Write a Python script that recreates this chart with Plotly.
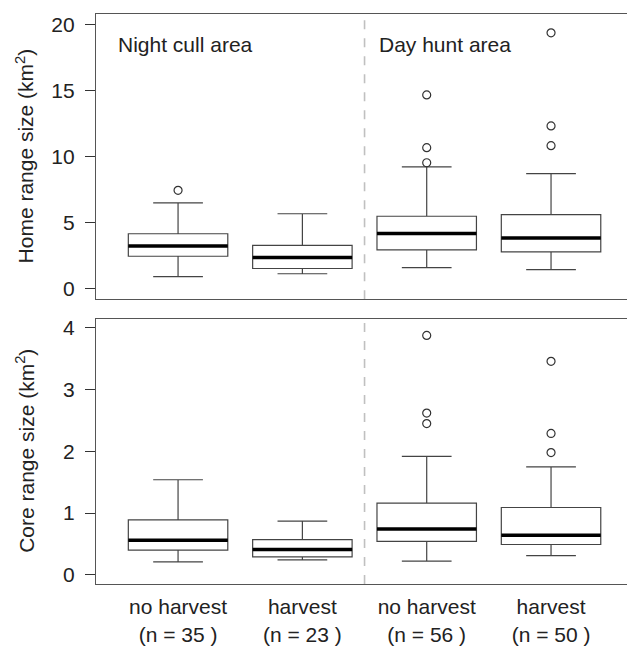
import plotly.graph_objects as go

# ---- data ----
positions = [1, 2, 3, 4]
groups = ["no harvest", "harvest", "no harvest", "harvest"]
n_obs = [35, 23, 56, 50]

home_q1 = [2.43, 1.50, 2.91, 2.76]
home_med = [3.20, 2.33, 4.16, 3.81]
home_q3 = [4.14, 3.26, 5.47, 5.59]
home_low = [0.88, 1.10, 1.56, 1.41]
home_up = [6.49, 5.66, 9.22, 8.70]
home_out_x = [1, 3, 3, 3, 4, 4, 4]
home_out_y = [7.44, 14.68, 10.68, 9.53, 19.40, 12.33, 10.83]

core_q1 = [0.40, 0.29, 0.54, 0.49]
core_med = [0.56, 0.41, 0.74, 0.64]
core_q3 = [0.89, 0.57, 1.16, 1.09]
core_low = [0.21, 0.24, 0.22, 0.31]
core_up = [1.54, 0.87, 1.92, 1.75]
core_out_x = [3, 3, 3, 4, 4, 4]
core_out_y = [3.88, 2.62, 2.45, 3.46, 2.29, 1.98]

home_ticks = [0, 5, 10, 15, 20]
core_ticks = [0, 1, 2, 3, 4]
area_labels = ["Night cull area", "Day hunt area"]
area_label_x = [0.5, 2.6]
divider_x = 2.5
box_width = 0.8

FONT = "Liberation Sans, Arial, Helvetica, sans-serif"
TXT = "#222222"
FRAME = "#555555"
BOXC = "#444444"

fig = go.Figure()

def add_panel(xa, ya, q1, med, q3, low, up, ox, oy):
    fig.add_trace(go.Box(
        x=positions, q1=q1, median=med, q3=q3, lowerfence=low, upperfence=up,
        width=box_width, whiskerwidth=0.5, fillcolor="white",
        line=dict(color=BOXC, width=1.2), boxpoints=False,
        xaxis=xa, yaxis=ya, showlegend=False, hoverinfo="skip"))
    for p, m in zip(positions, med):
        fig.add_trace(go.Scatter(
            x=[p - box_width / 2, p + box_width / 2], y=[m, m], mode="lines",
            line=dict(color="black", width=3.5), xaxis=xa, yaxis=ya,
            showlegend=False, hoverinfo="skip"))
    fig.add_trace(go.Scatter(
        x=ox, y=oy, mode="markers",
        marker=dict(symbol="circle-open", size=8, color="#333333", line=dict(width=1.2)),
        xaxis=xa, yaxis=ya, showlegend=False, hoverinfo="skip"))

add_panel("x", "y", home_q1, home_med, home_q3, home_low, home_up, home_out_x, home_out_y)
add_panel("x2", "y2", core_q1, core_med, core_q3, core_low, core_up, core_out_x, core_out_y)

xrange = [0.34, 4.611]
axis_common = dict(showgrid=False, zeroline=False, showline=True, linecolor=FRAME,
                   linewidth=1.2)

fig.update_layout(
    width=627, height=646,
    margin=dict(l=96, r=0, t=14, b=57),
    paper_bgcolor="white", plot_bgcolor="white",
    font=dict(family=FONT, size=21, color=TXT),
    xaxis=dict(domain=[0, 1], range=xrange, anchor="y", mirror=True,
               showticklabels=False, ticks="", **axis_common),
    yaxis=dict(domain=[0.4997, 1], range=[-0.83, 20.83], anchor="x",
               tickvals=home_ticks, ticks="outside", ticklen=10, tickcolor="#333",
               tickwidth=1.2, ticklabelstandoff=6, **axis_common),
    xaxis2=dict(domain=[0, 1], range=xrange, anchor="y2", mirror=True,
                tickvals=positions,
                ticktext=[f"{g}<br>(n = {n} )" for g, n in zip(groups, n_obs)],
                ticks="", ticklabelstandoff=4, **axis_common),
    yaxis2=dict(domain=[0, 0.4654], range=[-0.15, 4.15], anchor="x2",
                tickvals=core_ticks, ticks="outside", ticklen=10, tickcolor="#333",
                tickwidth=1.2, ticklabelstandoff=6, **axis_common),
)

for ya, yd in (("y", "y domain"), ("y2", "y2 domain")):
    xr = "x" if ya == "y" else "x2"
    fig.add_shape(type="line", xref=xr, yref=yd, x0=divider_x, x1=divider_x, y0=0, y1=1,
                  line=dict(color="#c0c0c0", width=1.6, dash="dash"), layer="below")

for lbl, lx in zip(area_labels, area_label_x):
    fig.add_annotation(x=lx, y=18.5, xref="x", yref="y", text=lbl, showarrow=False,
                       xanchor="left", yanchor="middle", font=dict(size=21, color=TXT))

fig.add_annotation(xref="paper", yref="paper", x=(25 - 96) / 531, y=(589.3 - 158) / 575,
                   text="Home range size (km<sup>2</sup>)", textangle=-90, showarrow=False,
                   xanchor="center", yanchor="middle", font=dict(size=21, color=TXT))
fig.add_annotation(xref="paper", yref="paper", x=(25 - 96) / 531, y=(589.3 - 455) / 575,
                   text="Core range size (km<sup>2</sup>)", textangle=-90, showarrow=False,
                   xanchor="center", yanchor="middle", font=dict(size=21, color=TXT))

fig.write_html("out.html")
